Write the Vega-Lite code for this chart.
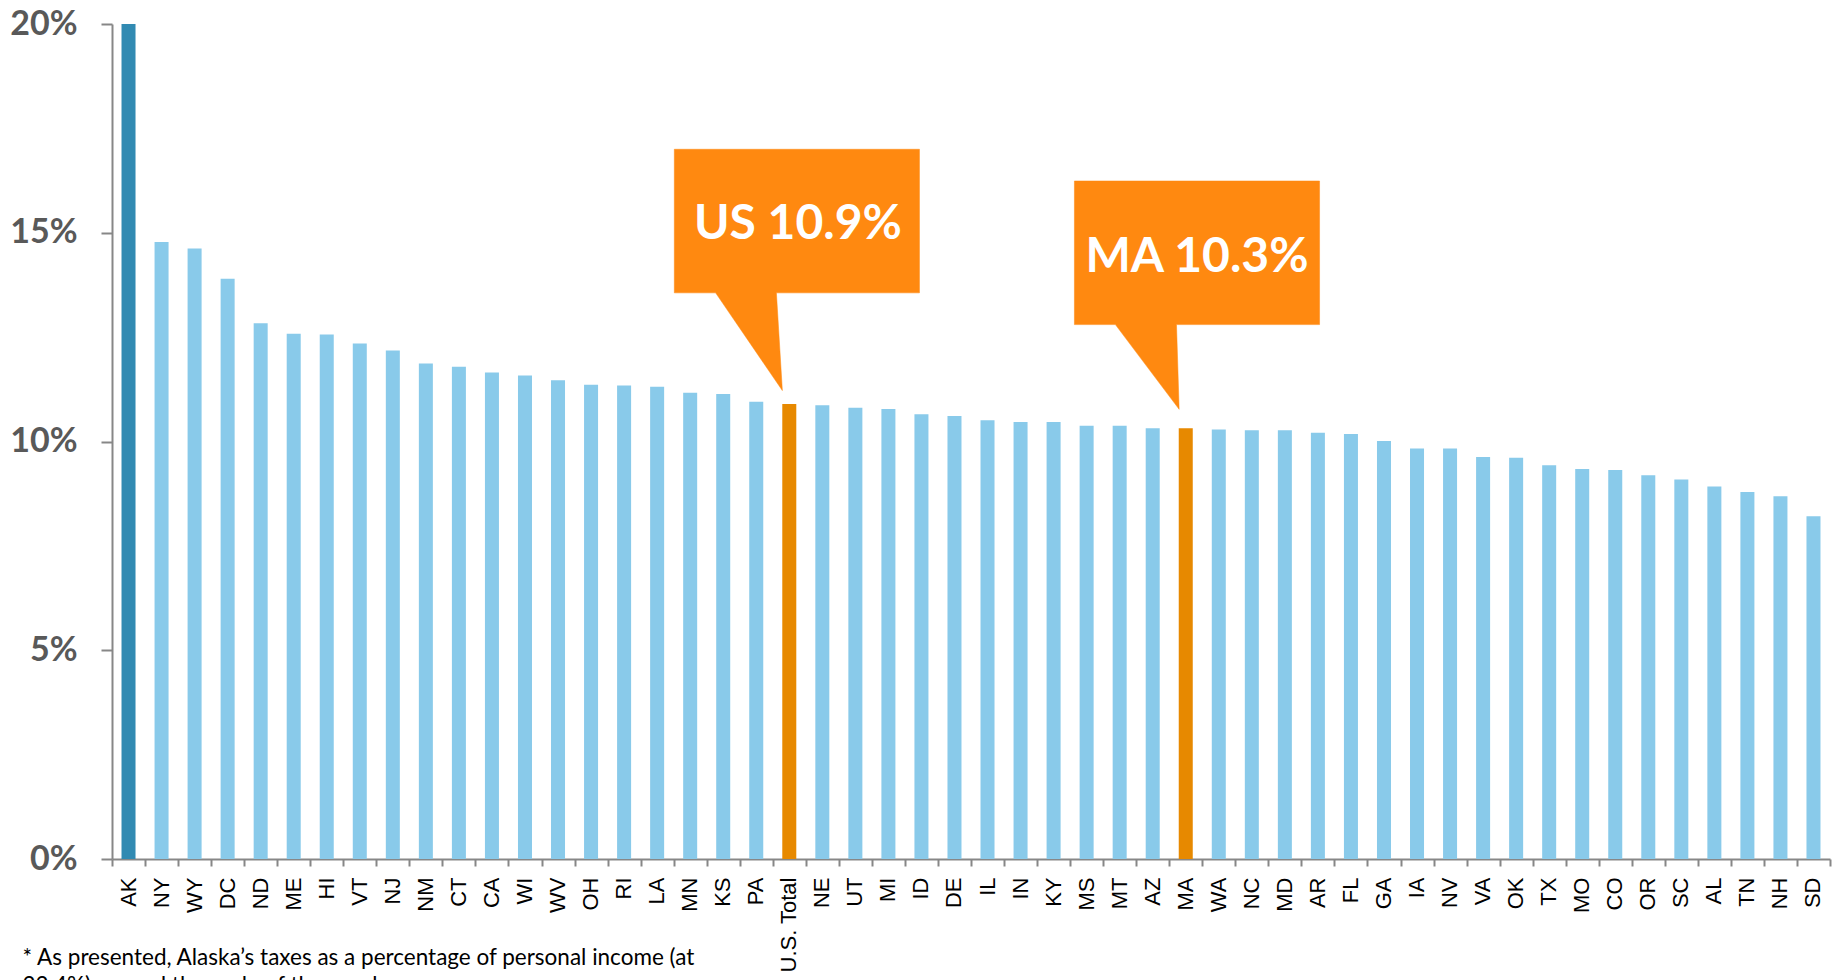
{
  "$schema": "https://vega.github.io/schema/vega-lite/v6.json",
  "width": 1718,
  "height": 835,
  "autosize": {"type": "none"},
  "padding": {"left": 112, "top": 24, "right": 11, "bottom": 121},
  "background": "white",
  "config": {"view": {"stroke": null}},
  "datasets": {
    "bars": [
      {"state": "AK", "value": 22.4, "group": "AK"},
      {"state": "NY", "value": 14.78, "group": "state"},
      {"state": "WY", "value": 14.62, "group": "state"},
      {"state": "DC", "value": 13.9, "group": "state"},
      {"state": "ND", "value": 12.83, "group": "state"},
      {"state": "ME", "value": 12.58, "group": "state"},
      {"state": "HI", "value": 12.56, "group": "state"},
      {"state": "VT", "value": 12.35, "group": "state"},
      {"state": "NJ", "value": 12.18, "group": "state"},
      {"state": "NM", "value": 11.87, "group": "state"},
      {"state": "CT", "value": 11.79, "group": "state"},
      {"state": "CA", "value": 11.65, "group": "state"},
      {"state": "WI", "value": 11.58, "group": "state"},
      {"state": "WV", "value": 11.47, "group": "state"},
      {"state": "OH", "value": 11.36, "group": "state"},
      {"state": "RI", "value": 11.34, "group": "state"},
      {"state": "LA", "value": 11.31, "group": "state"},
      {"state": "MN", "value": 11.17, "group": "state"},
      {"state": "KS", "value": 11.14, "group": "state"},
      {"state": "PA", "value": 10.95, "group": "state"},
      {"state": "U.S. Total", "value": 10.9, "group": "highlight"},
      {"state": "NE", "value": 10.87, "group": "state"},
      {"state": "UT", "value": 10.81, "group": "state"},
      {"state": "MI", "value": 10.78, "group": "state"},
      {"state": "ID", "value": 10.65, "group": "state"},
      {"state": "DE", "value": 10.61, "group": "state"},
      {"state": "IL", "value": 10.51, "group": "state"},
      {"state": "IN", "value": 10.47, "group": "state"},
      {"state": "KY", "value": 10.47, "group": "state"},
      {"state": "MS", "value": 10.38, "group": "state"},
      {"state": "MT", "value": 10.38, "group": "state"},
      {"state": "AZ", "value": 10.32, "group": "state"},
      {"state": "MA", "value": 10.32, "group": "highlight"},
      {"state": "WA", "value": 10.29, "group": "state"},
      {"state": "NC", "value": 10.27, "group": "state"},
      {"state": "MD", "value": 10.27, "group": "state"},
      {"state": "AR", "value": 10.21, "group": "state"},
      {"state": "FL", "value": 10.18, "group": "state"},
      {"state": "GA", "value": 10.01, "group": "state"},
      {"state": "IA", "value": 9.83, "group": "state"},
      {"state": "NV", "value": 9.83, "group": "state"},
      {"state": "VA", "value": 9.63, "group": "state"},
      {"state": "OK", "value": 9.61, "group": "state"},
      {"state": "TX", "value": 9.43, "group": "state"},
      {"state": "MO", "value": 9.34, "group": "state"},
      {"state": "CO", "value": 9.32, "group": "state"},
      {"state": "OR", "value": 9.19, "group": "state"},
      {"state": "SC", "value": 9.09, "group": "state"},
      {"state": "AL", "value": 8.92, "group": "state"},
      {"state": "TN", "value": 8.79, "group": "state"},
      {"state": "NH", "value": 8.69, "group": "state"},
      {"state": "SD", "value": 8.21, "group": "state"}
    ],
    "callouts": [
      {"id": "US", "ord": 1, "cx": 17.02, "cy": 17.0},
      {"id": "US", "ord": 2, "cx": 24.44, "cy": 17.0},
      {"id": "US", "ord": 3, "cx": 24.44, "cy": 13.56},
      {"id": "US", "ord": 4, "cx": 20.11, "cy": 13.56},
      {"id": "US", "ord": 5, "cx": 20.29, "cy": 11.22},
      {"id": "US", "ord": 6, "cx": 18.27, "cy": 13.56},
      {"id": "US", "ord": 7, "cx": 17.02, "cy": 13.56},
      {"id": "US", "ord": 8, "cx": 17.02, "cy": 17.0},
      {"id": "MA", "ord": 1, "cx": 29.13, "cy": 16.24},
      {"id": "MA", "ord": 2, "cx": 36.55, "cy": 16.24},
      {"id": "MA", "ord": 3, "cx": 36.55, "cy": 12.8},
      {"id": "MA", "ord": 4, "cx": 32.22, "cy": 12.8},
      {"id": "MA", "ord": 5, "cx": 32.3, "cy": 10.77},
      {"id": "MA", "ord": 6, "cx": 30.37, "cy": 12.8},
      {"id": "MA", "ord": 7, "cx": 29.13, "cy": 12.8},
      {"id": "MA", "ord": 8, "cx": 29.13, "cy": 16.24}
    ],
    "labels": [
      {"label": "US 10.9%", "lx": 20.76, "ly": 14.85},
      {"label": "MA 10.3%", "lx": 32.84, "ly": 14.05}
    ],
    "note": [
      {"text": "* As presented, Alaska’s taxes as a percentage of personal income (at\n22.4%) exceed the scale of the graph.", "nx": -2.71, "ny": -2.54}
    ]
  },
  "layer": [
    {
      "data": {"name": "bars"},
      "mark": {"type": "bar", "clip": true},
      "encoding": {
        "x": {
          "field": "state", "type": "nominal", "sort": null,
          "scale": {"paddingInner": 0.576, "paddingOuter": 0.288},
          "axis": {
            "title": null, "labelAngle": -90, "labelFont": "Liberation Sans",
            "labelFontSize": 22, "labelColor": "#000000", "ticks": false,
            "domain": true, "domainColor": "#878787", "domainWidth": 2,
            "labelPadding": 18, "labelOverlap": false, "labelBound": false
          }
        },
        "y": {
          "field": "value", "type": "quantitative",
          "scale": {"domain": [0, 20], "nice": false},
          "axis": {
            "title": null, "values": [0, 5, 10, 15, 20],
            "labelExpr": "datum.value + '%'", "labelFont": "Lato",
            "labelFontWeight": "bold", "labelFontSize": 34, "labelColor": "#595959",
            "domainColor": "#878787", "domainWidth": 2, "tickColor": "#878787",
            "tickWidth": 2, "tickSize": 11, "labelPadding": 24, "grid": false
          }
        },
        "color": {
          "field": "group", "type": "nominal", "legend": null,
          "scale": {"domain": ["AK", "state", "highlight"], "range": ["#318AB2", "#89CAEA", "#E78900"]}
        }
      }
    },
    {
      "data": {"name": "callouts"},
      "mark": {"type": "line", "fill": "#FF8910", "stroke": "#FF8910", "strokeWidth": 0.5, "interpolate": "linear"},
      "encoding": {
        "x": {
          "field": "cx", "type": "quantitative",
          "scale": {"domain": [0, 52], "nice": false, "zero": false},
          "axis": {
            "orient": "bottom", "title": null, "values": [0,1,2,3,4,5,6,7,8,9,10,11,12,13,14,15,16,17,18,19,20,21,22,23,24,25,26,27,28,29,30,31,32,33,34,35,36,37,38,39,40,41,42,43,44,45,46,47,48,49,50,51,52],
            "labels": false, "ticks": true, "tickSize": 7, "tickColor": "#878787",
            "tickWidth": 2, "domain": false, "grid": false
          }
        },
        "y": {"field": "cy", "type": "quantitative", "scale": {"domain": [0, 20], "nice": false}},
        "order": {"field": "ord", "type": "quantitative"},
        "detail": {"field": "id", "type": "nominal"}
      }
    },
    {
      "data": {"name": "labels"},
      "mark": {"type": "text", "font": "Lato", "fontWeight": "bold", "fontSize": 48, "color": "#FFFFFF", "align": "center", "baseline": "alphabetic"},
      "encoding": {
        "x": {"field": "lx", "type": "quantitative", "scale": {"domain": [0, 52], "nice": false, "zero": false}, "axis": null},
        "y": {"field": "ly", "type": "quantitative", "scale": {"domain": [0, 20], "nice": false}},
        "text": {"field": "label", "type": "nominal"}
      }
    },
    {
      "data": {"name": "note"},
      "mark": {"type": "text", "font": "Lato", "fontSize": 22.5, "color": "#000000", "align": "left", "baseline": "alphabetic", "lineBreak": "\n", "lineHeight": 28},
      "encoding": {
        "x": {"field": "nx", "type": "quantitative", "scale": {"domain": [0, 52], "nice": false, "zero": false}, "axis": null},
        "y": {"field": "ny", "type": "quantitative", "scale": {"domain": [0, 20], "nice": false}},
        "text": {"field": "text", "type": "nominal"}
      }
    }
  ],
  "resolve": {"scale": {"x": "independent"}}
}
